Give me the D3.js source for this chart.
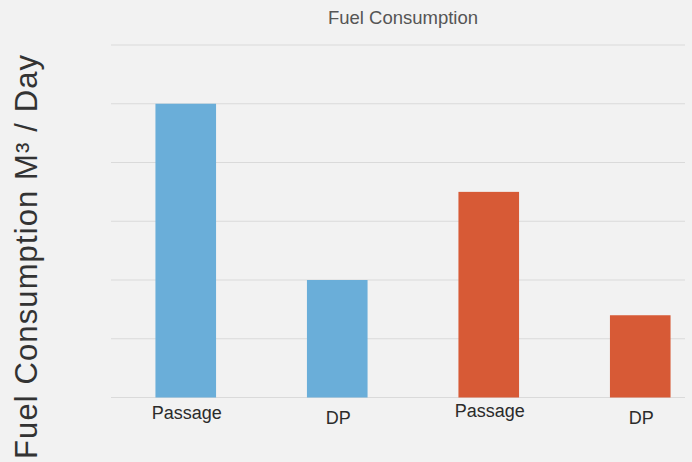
<!DOCTYPE html>
<html>
<head>
<meta charset="utf-8">
<script src="https://cdn.jsdelivr.net/npm/d3@7"></script>
<style>
  html, body { margin: 0; padding: 0; background: #f2f2f2; }
  svg { display: block; }
  text { font-family: "Liberation Sans", Arial, sans-serif; }
</style>
</head>
<body>
<svg id="chart" width="692" height="462"></svg>
<script>
// ---- data ----
const categories = ["Passage", "DP", "Passage", "DP"];
const values = [5.0, 2.0, 3.5, 1.4];
const barColors = ["#6aaed9", "#6aaed9", "#d75a36", "#d75a36"];
const yTicks = [0, 1, 2, 3, 4, 5, 6];
const titleText = "Fuel Consumption";
const yLabel = "Fuel Consumption M³ / Day";

// ---- layout ----
const W = 692, H = 462;
const plot = { left: 111, right: 685, top: 45, bottom: 397.5 };
const labelBaseline = [419, 424, 417, 424];

const svg = d3.select("#chart");
svg.append("rect").attr("width", W).attr("height", H).attr("fill", "#f2f2f2");

const x = d3.scaleBand()
  .domain(d3.range(categories.length))
  .range([110, 716])
  .paddingInner(0.6)
  .paddingOuter(0.3);

const y = d3.scaleLinear().domain([0, 6]).range([plot.bottom, plot.top]);

// gridlines
svg.append("g").selectAll("line")
  .data(yTicks)
  .join("line")
  .attr("x1", plot.left)
  .attr("x2", plot.right)
  .attr("y1", d => y(d))
  .attr("y2", d => y(d))
  .attr("stroke", "#dadada")
  .attr("stroke-width", 1.2);

// bars
svg.append("g").selectAll("rect")
  .data(values)
  .join("rect")
  .attr("x", (d, i) => x(i))
  .attr("width", x.bandwidth())
  .attr("y", d => y(d))
  .attr("height", d => y(0) - y(d))
  .attr("fill", (d, i) => barColors[i]);

// category labels
svg.append("g").selectAll("text")
  .data(categories)
  .join("text")
  .attr("x", (d, i) => x(i) + x.bandwidth() / 2 + 1)
  .attr("y", (d, i) => labelBaseline[i])
  .attr("text-anchor", "middle")
  .attr("font-size", 18)
  .attr("fill", "#2b2b2b")
  .text(d => d);

// title
svg.append("text")
  .attr("x", 403)
  .attr("y", 24)
  .attr("text-anchor", "middle")
  .attr("font-size", 18.5)
  .attr("fill", "#555555")
  .text(titleText);

// y axis label
svg.append("text")
  .attr("transform", "translate(37,257) rotate(-90)")
  .attr("text-anchor", "middle")
  .attr("font-size", 31)
  .attr("fill", "#333333")
  .attr("textLength", 404)
  .attr("lengthAdjust", "spacing")
  .text(yLabel);
</script>
</body>
</html>
